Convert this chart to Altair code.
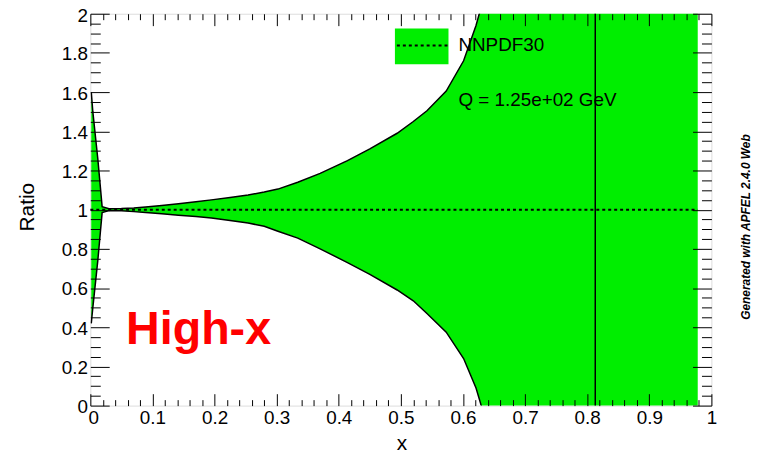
import altair as alt
import pandas as pd
import numpy as np

# ---- data ----
x_vals = [0.0015, 0.004, 0.008, 0.012, 0.016, 0.019, 0.03, 0.05, 0.07, 0.089, 0.115,
          0.142, 0.17, 0.195, 0.225, 0.254, 0.28, 0.302, 0.334, 0.37, 0.414, 0.45,
          0.494, 0.52, 0.542, 0.573, 0.601, 0.621, 0.635, 0.66, 0.70, 0.75, 0.80,
          0.85, 0.90, 0.95, 0.978]
upper = [1.60, 1.50, 1.38, 1.26, 1.12, 1.015, 1.005, 1.006, 1.009, 1.014, 1.021,
         1.030, 1.040, 1.050, 1.062, 1.075, 1.090, 1.105, 1.140, 1.185, 1.250, 1.310,
         1.390, 1.450, 1.505, 1.605, 1.760, 1.940, 2.100, 2.600, 3.500, 4.500, 5.500,
         6.000, 6.500, 7.000, 7.500]
lower = [0.42, 0.50, 0.62, 0.74, 0.88, 0.985, 0.995, 0.994, 0.990, 0.985, 0.979,
         0.972, 0.965, 0.957, 0.945, 0.932, 0.915, 0.890, 0.855, 0.800, 0.730, 0.670,
         0.590, 0.535, 0.470, 0.375, 0.240, 0.090, -0.060, -0.600, -1.500, -2.500,
         -3.500, -4.000, -4.500, -5.000, -5.500]
central_x = [0.0, 0.978]
central_y = [1.0, 1.0]
spike_x = [0.813]

x_major = [0, 0.1, 0.2, 0.3, 0.4, 0.5, 0.6, 0.7, 0.8, 0.9, 1.0]
y_major = [0, 0.2, 0.4, 0.6, 0.8, 1.0, 1.2, 1.4, 1.6, 1.8, 2.0]
x_ticks = [round(v, 2) for v in np.arange(0, 1.0001, 0.02)]
y_ticks = [round(v, 2) for v in np.arange(0, 2.0001, 0.05)]

band = pd.DataFrame({"x": x_vals, "lo": lower, "hi": upper})
central = pd.DataFrame({"x": central_x, "y": central_y})
spike = pd.DataFrame({"x": spike_x})

GREEN = "#00ee00"
FONT = "Liberation Sans"
W, H = 626, 395

xs = alt.Scale(domain=[0, 1], nice=False, zero=False)
ys = alt.Scale(domain=[0, 2], nice=False, zero=False)

major_x = "abs(datum.value*10 - round(datum.value*10)) < 0.001"
major_y = "abs(datum.value*5 - round(datum.value*5)) < 0.001"


def xaxis(orient, labels):
    kw = dict(orient=orient, values=x_ticks,
              tickSize={"condition": {"test": major_x, "value": -12}, "value": -6},
              domain=False, grid=False, title=None, tickColor="black", tickWidth=1,
              labelOverlap=False, labelFlush=False, zindex=1)
    if labels:
        kw.update(labelExpr=f"({major_x}) ? format(datum.value, '~g') : ''",
                  labelFontSize=19, labelFont=FONT, labelColor="black", labelPadding=15,
                  labelOffset={"condition": {"test": "datum.value < 0.001", "value": 3},
                               "value": 0})
    else:
        kw.update(labels=False)
    return alt.Axis(**kw)


def yaxis(orient, labels):
    kw = dict(orient=orient, values=y_ticks,
              tickSize={"condition": {"test": major_y, "value": -19}, "value": -10},
              domain=False, grid=False, title=None, tickColor="black", tickWidth=1,
              labelOverlap=False, labelFlush=False, zindex=1)
    if labels:
        kw.update(labelExpr=f"({major_y}) ? format(datum.value, '~g') : ''",
                  labelFontSize=19, labelFont=FONT, labelColor="black", labelPadding=22,
                  labelOffset={"condition": {"test": "datum.value > 1.99", "value": 2},
                               "value": 1})
    else:
        kw.update(labels=False)
    return alt.Axis(**kw)


area = alt.Chart(band).mark_area(color=GREEN, clip=True, opacity=1).encode(
    x=alt.X("x:Q", scale=xs, axis=xaxis("bottom", True)),
    y=alt.Y("lo:Q", scale=ys, axis=yaxis("left", True)),
    y2="hi:Q",
)
up_line = alt.Chart(band).mark_line(color="black", strokeWidth=1.5, clip=True).encode(
    x=alt.X("x:Q", scale=xs, axis=None), y=alt.Y("hi:Q", scale=ys, axis=None))
lo_line = alt.Chart(band).mark_line(color="black", strokeWidth=1.5, clip=True).encode(
    x=alt.X("x:Q", scale=xs, axis=None), y=alt.Y("lo:Q", scale=ys, axis=None))
center = alt.Chart(central).mark_line(color="black", strokeWidth=2, strokeDash=[3, 3]).encode(
    x=alt.X("x:Q", scale=xs, axis=xaxis("top", False)),
    y=alt.Y("y:Q", scale=ys, axis=yaxis("right", False)),
)
vrule = alt.Chart(spike).mark_rule(color="black", strokeWidth=1.5).encode(
    x=alt.X("x:Q", scale=xs, axis=None))

# legend & annotations (pixel positions relative to plot area)
leg_box = alt.Chart(pd.DataFrame({"k": [0]})).mark_rect(color=GREEN).encode(
    x=alt.value(307), x2=alt.value(361), y=alt.value(15), y2=alt.value(51))
leg_line = alt.Chart(pd.DataFrame({"k": [0]})).mark_rule(
    color="black", strokeWidth=2, strokeDash=[3, 3]).encode(
    x=alt.value(309), x2=alt.value(360), y=alt.value(32))
leg_text = alt.Chart(pd.DataFrame({"t": ["NNPDF30"]})).mark_text(
    align="left", baseline="middle", font=FONT, fontSize=19, color="black").encode(
    text="t:N", x=alt.value(371), y=alt.value(32))
q_text = alt.Chart(pd.DataFrame({"t": ["Q = 1.25e+02 GeV"]})).mark_text(
    align="left", baseline="middle", font=FONT, fontSize=19, color="black").encode(
    text="t:N", x=alt.value(371), y=alt.value(87))
high_text = alt.Chart(pd.DataFrame({"t": ["High-x"]})).mark_text(
    align="left", baseline="alphabetic", font=FONT, fontSize=47, fontWeight="bold",
    color="#ff0000").encode(text="t:N", x=alt.value(36), y=alt.value(333))
gen_text = alt.Chart(pd.DataFrame({"t": ["Generated with APFEL 2.4.0 Web"]})).mark_text(
    align="center", baseline="middle", font=FONT, fontSize=12, fontWeight="bold",
    fontStyle="italic", angle=270, color="black").encode(
    text="t:N", x=alt.value(661), y=alt.value(215))
ylab = alt.Chart(pd.DataFrame({"t": ["Ratio"]})).mark_text(
    align="center", baseline="middle", font=FONT, fontSize=21, angle=270,
    color="black").encode(text="t:N", x=alt.value(-63), y=alt.value(195))
xlab = alt.Chart(pd.DataFrame({"t": ["x"]})).mark_text(
    align="center", baseline="middle", font=FONT, fontSize=21, color="black").encode(
    text="t:N", x=alt.value(314), y=alt.value(434))

chart = alt.layer(
    area, up_line, lo_line, center, vrule,
    leg_box, leg_line, leg_text, q_text, high_text, gen_text, ylab, xlab,
).resolve_axis(x="independent", y="independent").properties(
    width=W, height=H,
    autosize=alt.AutoSizeParams(type="none"),
    padding={"left": 83, "top": 4, "right": 50, "bottom": 46},
).configure_view(stroke="black", strokeWidth=1.5).configure(background="white")

chart.save("out.html", embed_options={"renderer": "svg", "actions": False})
